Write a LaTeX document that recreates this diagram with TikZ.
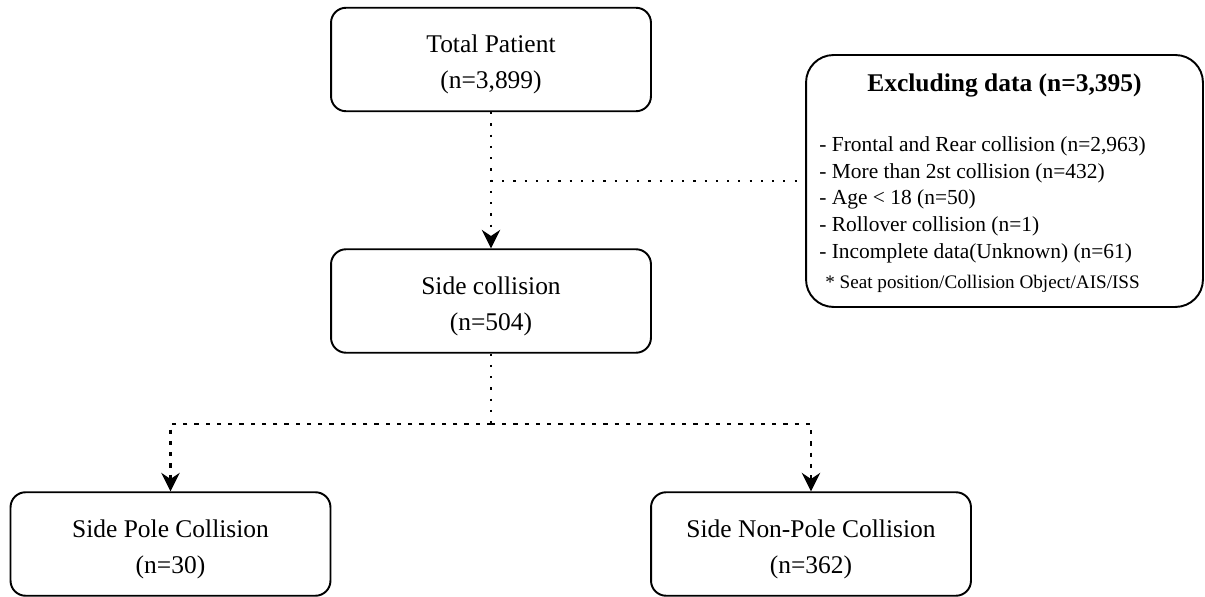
\documentclass[tikz,border=0pt]{standalone}
\usepackage{fontspec}
\setmainfont{Liberation Serif}
\usetikzlibrary{arrows.meta,positioning}

\newcommand{\lowstrut}{\rule{0pt}{16pt}}

\tikzset{
	stage/.style = {
	draw = black,
	line width = 1.1pt,
	rounded corners = 0.3cm,
	minimum width = 6.4cm,
	minimum height = 2.07cm,
	align = center,
	font = \fontsize{14.5pt}{20.5pt}\selectfont
	},
	dotline/.style = {
	line width = 1pt,
	dash pattern = on 1.2pt off 5.2pt
	},
	dashline/.style = {
	line width = 1.3pt,
	dash pattern = on 2.4pt off 4pt
	}
}

\begin{document}
\begin{tikzpicture}[
	x = 0.02cm,
	y = -0.02cm,
	>={Stealth[length=10.5pt, width=10.5pt, inset=3.5pt]}
	]

	\useasboundingbox (0,0) rectangle (1205,597);

	% main flow
	\node[stage] (total) at (491,59.5) {\lowstrut Total Patient\\(n=3,899)};
	\node[stage] (side) at (491,301) {\lowstrut Side collision\\(n=504)};
	\node[stage] (pole) at (170.5,544) {\lowstrut Side Pole Collision\\(n=30)};
	\node[stage] (nonpole) at (811,544) {\lowstrut Side Non-Pole Collision\\(n=362)};

	% excluded cases
	\node[draw=black, line width=1.1pt, rounded corners=0.55cm,
	minimum width=7.94cm, minimum height=5.04cm] (excl) at (1004.5,181) {};
	\node[font=\fontsize{14.5pt}{17pt}\selectfont\bfseries] (excltitle) at (1004.5,85) {Excluding data (n=3,395)};
	\node[anchor=north west, align=left, inner sep=0pt,
	font=\fontsize{12.2pt}{15.3pt}\selectfont] (excllist) at (819,136) {%
	- Frontal and Rear collision (n=2,963)\\
	- More than 2st collision (n=432)\\
	- Age < 18 (n=50)\\
	- Rollover collision (n=1)\\
	- Incomplete data(Unknown) (n=61)};
	\node[anchor=north west, inner sep=0pt,
	font=\fontsize{10.9pt}{12pt}\selectfont] (exclnote) at (825,275) {* Seat position/Collision Object/AIS/ISS};

	\coordinate (split) at (491,424);

	\draw[dotline, ->] (total) -- (side);
	\draw[dotline] (total.south |- excl.west) -- (excl.west);
	\draw[dotline] (side) -- (split);
	\draw[dashline, ->] (split) -| (pole);
	\draw[dashline, ->] (split) -| (nonpole);
\end{tikzpicture}
\end{document}
